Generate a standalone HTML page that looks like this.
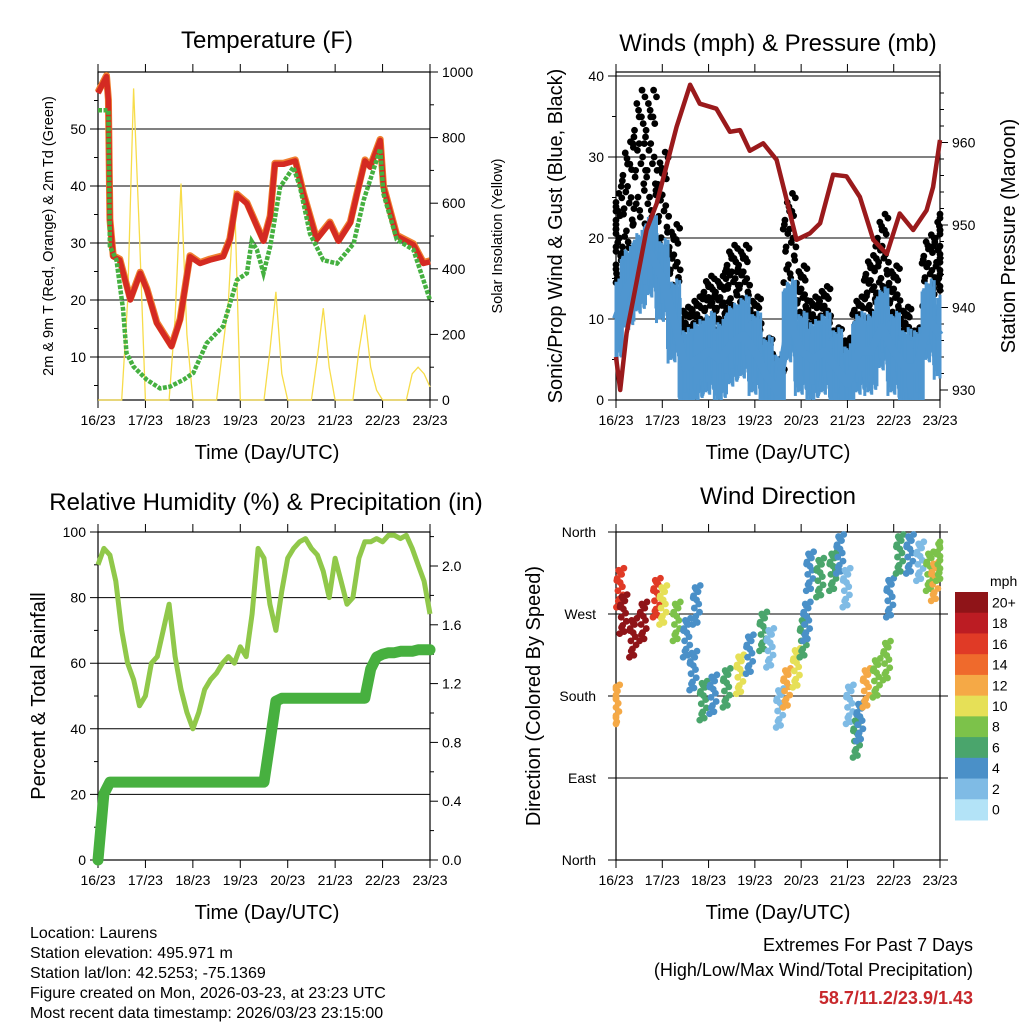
<!DOCTYPE html>
<html><head><meta charset="utf-8"><style>
html,body{margin:0;padding:0;background:#fff;}
svg{display:block;font-family:"Liberation Sans",sans-serif;}
</style></head><body>
<svg id="c" width="1024" height="1024" viewBox="0 0 1024 1024" xmlns="http://www.w3.org/2000/svg">
<g id="g"></g>
</svg>
<script>
// ---------- DATA ----------
const dayLabels = ["16/23","17/23","18/23","19/23","20/23","21/23","22/23","23/23"];
const tDays = [0,0.18,0.22,0.25,0.32,0.46,0.68,0.89,1.03,1.24,1.55,1.73,1.94,2.15,2.36,2.64,2.78,2.93,3.14,3.35,3.49,3.63,3.73,3.91,4.16,4.33,4.61,4.89,5.07,5.32,5.46,5.63,5.74,5.95,6.02,6.3,6.65,6.86,7];
const tVals = [56.3,59.2,55,34,27.6,27,20,24.7,21.8,15.9,11.8,16.5,27.6,26.4,27,27.6,30.6,38.4,36.9,32.9,30.3,34.6,43.8,43.8,44.4,38.6,30.6,33.5,30.3,33.5,38.6,44.4,43.3,48,39.8,31.2,29.7,26.4,26.7];
const tdDays = [0,0.22,0.25,0.39,0.53,0.6,0.75,1.03,1.31,1.52,1.8,2.01,2.29,2.64,2.93,3.14,3.24,3.35,3.49,3.63,3.84,4.12,4.26,4.47,4.75,5.04,5.39,5.6,5.95,6.02,6.3,6.65,7];
const tdVals = [53.3,53.3,29.4,27,18.3,10.7,8.3,6,4.5,4.8,6,7.2,12.4,15.4,23.5,24.7,30.3,28.8,24.7,29.4,39.8,43.3,39.8,31.6,27,26.4,29.9,37.5,46.5,38.6,30.6,28.8,20];
const solar = [0,0,0,0,0,300,950,500, 0,0,0,0,0,250,660,200, 0,0,0,0,0,150,300,640, 0,0,0,0,0,150,330,80, 0,0,0,0,0,130,280,100, 0,0,0,0,150,260,100,30, 0,0,0,0,0,80,100,80,40];
const sonic = [10,14,16,18,15,10,4,5,6,5,7,8,6,3,1,10,6,5,6,4,2,6,6,9,6,4,4,10,8];
const gust  = [20,25,30,30,24,17,9,10,12,12,15,15,10,6,4,20,13,10,11,7,6,10,14,18,13,9,7,16,18];
const pDays = [0,0.09,0.23,0.37,0.66,0.88,1.31,1.6,1.81,2.17,2.46,2.68,2.89,3.18,3.47,3.69,3.9,4.19,4.41,4.69,4.98,5.27,5.56,5.85,6.13,6.42,6.71,6.85,7.0];
const pVals = [934,930,936.9,940.9,949.4,952.6,961.9,967,964.7,964.1,961.3,961.5,959,959.9,957.9,953,948.2,949,950.2,956.1,955.9,953.4,948.2,946.5,951.4,949.4,951.8,954.6,960.3];
const rh = [90,95,93,85,70,60,55,47,50,60,62,70,78,62,52,45,40,45,52,55,57,60,62,60,65,62,75,95,92,78,70,82,92,95,97,98,95,93,88,80,92,85,78,80,92,97,97,98,97,99,99,98,99,95,90,85,75];
const precip = [0,0.45,0.53,0.53,0.53,0.53,0.53,0.53,0.53,0.53,0.53,0.53,0.53,0.53,0.53,0.53,0.53,0.53,0.53,0.53,0.53,0.53,0.53,0.53,0.53,0.53,0.53,0.53,0.53,0.8,1.08,1.1,1.1,1.1,1.1,1.1,1.1,1.1,1.1,1.1,1.1,1.1,1.1,1.1,1.1,1.1,1.3,1.38,1.4,1.41,1.41,1.42,1.42,1.42,1.43,1.43,1.43];
const dirDays = [0,0.09,0.16,0.37,0.59,0.88,1.02,1.31,1.53,1.67,1.74,1.89,2.1,2.39,2.68,2.89,3.18,3.33,3.54,3.69,3.9,4.05,4.12,4.19,4.41,4.69,4.84,4.98,5.05,5.2,5.27,5.41,5.63,5.85,5.92,6.13,6.35,6.57,6.78,6.89,7.0];
const dirDeg  = [172,300,271,245,263,289,281,263,245,209,281,176,183,190,205,227,252,234,168,190,212,245,263,318,311,318,337,300,172,135,153,190,201,220,289,337,337,329,318,307,329];
const dirSpd  = [12,16,20,20,20,16,10,8,4,4,4,6,4,6,10,4,6,2,2,12,10,6,4,4,6,6,4,2,2,6,4,12,8,8,4,6,4,2,8,12,8];
const spdLabels = ["20+","18","16","14","12","10","8","6","4","2","0"];
const spdColors = ["#8f1418","#bc1c23","#e03a26","#ef6a2c","#f5a946","#e6e057","#7cc24a","#4aa56c","#4a90c8","#7fbbe5","#b3e3f7"];
const dirLabels = ["North","East","South","West","North"];

// ---------- helpers ----------
const NS="http://www.w3.org/2000/svg";
const G=document.getElementById('g');
function mk(tag,at,parent){const e=document.createElementNS(NS,tag);for(const k in at)e.setAttribute(k,at[k]);(parent||G).appendChild(e);return e;}
function txt(s,x,y,size,anchor,extra,name){const e=mk('text',Object.assign({x:x,y:y,'font-size':size,'text-anchor':anchor||'middle',fill:'#000'},extra||{}));e.textContent=s;


return e;}
function pts(xs,ys){return xs.map((x,i)=>x.toFixed(1)+','+ys[i].toFixed(1)).join(' ');}

function frame(x0,y0,x1,y1,name,xLabY){
  const g=mk('g',{});
  
  
  mk('rect',{x:x0,y:y0,width:x1-x0,height:y1-y0,fill:'none',stroke:'#000','stroke-width':1.2},g);
  for(let d=0;d<=7;d++){const x=x0+d*(x1-x0)/7;
    mk('line',{x1:x,y1:y0,x2:x,y2:y0-8,stroke:'#000','stroke-width':1},g);
    mk('line',{x1:x,y1:y1,x2:x,y2:y1+8,stroke:'#000','stroke-width':1},g);
    txt(dayLabels[d],x,xLabY,14,'middle',{},'x-tick-label');
  }
  return g;
}
// fixed scatter spread patterns (styling only)
const PX=[-0.1,-0.08,-0.06,-0.04,-0.02,0,0.02,0.04,0.06,0.08,0.1,-0.09,-0.05,-0.01,0.03,0.07,-0.07,-0.03,0.01,0.05,0.09,-0.11,0.11,0];
const PY=[-0.5,0.2,-0.1,0.4,-0.3,0.1,-0.45,0.3,0,-0.2,0.45,0.15,-0.35,0.35,-0.05,0.25,-0.15,0.05,-0.4,0.5,-0.25,0.1,-0.1,0.3];

// ---------- Panel 1 ----------
(function(){
  const x0=98,x1=430,y0=72,y1=400;
  const xs=d=>x0+d*(x1-x0)/7, yT=v=>414-v*5.7, yS=v=>400-v*0.328;
  const g=frame(x0,y0,x1,y1,'temperature-panel',425);
  [10,20,30,40,50].forEach(v=>{mk('line',{x1:x0-8,y1:yT(v),x2:x1,y2:yT(v),stroke:'#000','stroke-width':1},g);txt(String(v),x0-12,yT(v)+5,14,'end',{},'y-tick-label');});
  for(let v=5;v<60;v+=10){mk('line',{x1:x0-4,y1:yT(v),x2:x0,y2:yT(v),stroke:'#000'},g);}
  [0,200,400,600,800,1000].forEach(v=>{mk('line',{x1:x1,y1:yS(v),x2:x1+8,y2:yS(v),stroke:'#000'},g);txt(String(v),x1+12,yS(v)+5,14,'start',{},'y2-tick-label');});
  for(let v=100;v<1000;v+=200)mk('line',{x1:x1,y1:yS(v),x2:x1+4,y2:yS(v),stroke:'#000'},g);
  const s=mk('polyline',{points:pts(solar.map((v,i)=>xs(i/8)),solar.map(yS)),fill:'none',stroke:'#f7dc4a','stroke-width':1.3},g);
  
  const o=mk('polyline',{points:pts(tDays.map(xs),tVals.map(v=>yT(v)-1)),fill:'none',stroke:'#f08030','stroke-width':7,'stroke-linejoin':'round'},g);
  
  const r=mk('polyline',{points:pts(tDays.map(xs),tVals.map(yT)),fill:'none',stroke:'#d42a22','stroke-width':5.5,'stroke-linejoin':'round'},g);
  
  const gd=mk('polyline',{points:pts(tdDays.map(xs),tdVals.map(yT)),fill:'none',stroke:'#45b040','stroke-width':4.5,'stroke-dasharray':'4,1.5'},g);
  
  txt('Temperature (F)',267,48,24,'middle',{},'temperature-title');
  txt('Time (Day/UTC)',267,459,20,'middle',{},'x-axis-title');
  txt('2m & 9m T (Red, Orange) & 2m Td (Green)',0,0,14.5,'middle',{transform:'translate(53,236) rotate(-90)'},'y-axis-title');
  txt('Solar Insolation (Yellow)',0,0,14.5,'middle',{transform:'translate(502,236) rotate(-90)'},'y2-axis-title');
})();

// ---------- Panel 2 ----------
(function(){
  const x0=616,x1=940,y0=72,y1=400;
  const xs=d=>x0+d*(x1-x0)/7, yW=v=>400-v*8.1, yP=v=>390-(v-930)*8.25;
  const g=frame(x0,y0,x1,y1,'winds-panel',425);
  mk('line',{x1:x0,y1:76,x2:x1,y2:76,stroke:'#000'},g);
  [0,10,20,30,40].forEach(v=>{mk('line',{x1:x0-8,y1:yW(v),x2:x1,y2:yW(v),stroke:'#000'},g);txt(String(v),x0-12,yW(v)+5,14,'end',{},'y-tick-label');});
  for(let v=5;v<40;v+=10)mk('line',{x1:x0-4,y1:yW(v),x2:x0,y2:yW(v),stroke:'#000'},g);
  [930,940,950,960].forEach(v=>{mk('line',{x1:x1,y1:yP(v),x2:x1+8,y2:yP(v),stroke:'#000'},g);txt(String(v),x1+12,yP(v)+5,14,'start',{},'y2-tick-label');});
  for(let v=932;v<968;v+=2)mk('line',{x1:x1,y1:yP(v),x2:x1+4,y2:yP(v),stroke:'#000'},g);
  gust.forEach((v,i)=>{PX.forEach((dx,j)=>{const d=Math.min(7,Math.max(0,i/4+dx*1.25));const val=Math.max(0.3,v*(1+PY[j]*0.55));
    const c=mk('circle',{cx:xs(d),cy:yW(val),r:3.4,fill:'#000'},g);
    });});
  sonic.forEach((v,i)=>{PX.forEach((dx,j)=>{const d=Math.min(7,Math.max(0,i/4+dx*1.25));const hi=v+3+PY[j]*4,lo=Math.max(0,v-4+PY[j]*3);
    const l=mk('line',{x1:xs(d),y1:yW(hi),x2:xs(d),y2:yW(lo),stroke:'#4f96d0','stroke-width':3},g);
    });});
  const sl=mk('polyline',{points:pts(sonic.map((v,i)=>xs(i/4)),sonic.map(yW)),fill:'none',stroke:'#4f96d0','stroke-width':8,'stroke-linejoin':'round'},g);
  
  const p=mk('polyline',{points:pts(pDays.map(xs),pVals.map(yP)),fill:'none',stroke:'#9a1a1c','stroke-width':4.5,'stroke-linejoin':'round'},g);
  
  txt('Winds (mph) & Pressure (mb)',778,51,24,'middle',{},'winds-title');
  txt('Time (Day/UTC)',778,459,20,'middle',{},'x-axis-title');
  txt('Sonic/Prop Wind & Gust (Blue, Black)',0,0,20,'middle',{transform:'translate(562,236) rotate(-90)'},'y-axis-title');
  txt('Station Pressure (Maroon)',0,0,20,'middle',{transform:'translate(1015,236) rotate(-90)'},'y2-axis-title');
})();

// ---------- Panel 3 ----------
(function(){
  const x0=98,x1=430,y0=532,y1=860;
  const xs=d=>x0+d*(x1-x0)/7, yR=v=>860-v*3.28, yQ=v=>860-v*147;
  const g=frame(x0,y0,x1,y1,'humidity-panel',885);
  [0,20,40,60,80,100].forEach(v=>{mk('line',{x1:x0-8,y1:yR(v),x2:x1,y2:yR(v),stroke:'#000'},g);txt(String(v),x0-12,yR(v)+5,14,'end',{},'y-tick-label');});
  for(let v=10;v<100;v+=20)mk('line',{x1:x0-4,y1:yR(v),x2:x0,y2:yR(v),stroke:'#000'},g);
  [0,0.4,0.8,1.2,1.6,2.0].forEach(v=>{mk('line',{x1:x1,y1:yQ(v),x2:x1+8,y2:yQ(v),stroke:'#000'},g);txt(v.toFixed(1),x1+12,yQ(v)+5,14,'start',{},'y2-tick-label');});
  for(let v=0.2;v<2.2;v+=0.4)mk('line',{x1:x1,y1:yQ(v),x2:x1+4,y2:yQ(v),stroke:'#000'},g);
  const q=mk('polyline',{points:pts(precip.map((v,i)=>xs(i/8)),precip.map(yQ)),fill:'none',stroke:'#47b03f','stroke-width':11,'stroke-linejoin':'round','stroke-linecap':'round'},g);
  
  const r=mk('polyline',{points:pts(rh.map((v,i)=>xs(i/8)),rh.map(yR)),fill:'none',stroke:'#90c84a','stroke-width':5,'stroke-linejoin':'round'},g);
  
  txt('Relative Humidity (%) & Precipitation (in)',266,510,24,'middle',{},'humidity-title');
  txt('Time (Day/UTC)',267,919,20,'middle',{},'x-axis-title');
  txt('Percent & Total Rainfall',0,0,20,'middle',{transform:'translate(45,696) rotate(-90)'},'y-axis-title');
})();

// ---------- Panel 4 ----------
(function(){
  const x0=616,x1=940,y0=532,y1=860;
  const xs=d=>x0+d*(x1-x0)/7, yD=v=>860-v*(328/360);
  const g=frame(x0,y0,x1,y1,'wind-direction-panel',885);
  dirLabels.forEach((s,i)=>{const y=yD(i*90);mk('line',{x1:x0-8,y1:y,x2:x1+8,y2:y,stroke:'#000'},g);txt(s,x0-20,y+5,14,'end',{},'y-tick-label');});
  dirDeg.forEach((v,i)=>{const bin=Math.min(10,Math.round(dirSpd[i]/2));const col=spdColors[10-bin];
    PX.slice(0,14).forEach((dx,j)=>{const d=Math.min(7,Math.max(0,dirDays[i]+dx*0.8));const dv=Math.min(360,Math.max(0,v+PY[j]*45));
      const c=mk('circle',{cx:xs(d),cy:yD(dv),r:3.4,fill:col},g);
      });});
  const cb=mk('g',{});
  
  const h=228/11;
  spdColors.forEach((c,i)=>{mk('rect',{x:955,y:592+i*h,width:33,height:h+0.5,fill:c},cb);txt(spdLabels[i],992,592+i*h+h/2+5,14,'start',{},'colorbar-label');});
  txt('mph',990,586,14,'start',{},'colorbar-unit');
  txt('Wind Direction',778,504,24,'middle',{},'wind-direction-title');
  txt('Time (Day/UTC)',778,919,20,'middle',{},'x-axis-title');
  txt('Direction (Colored By Speed)',0,0,20,'middle',{transform:'translate(540,696) rotate(-90)'},'y-axis-title');
})();

// ---------- Footer ----------
["Location: Laurens","Station elevation: 495.971 m","Station lat/lon: 42.5253; -75.1369","Figure created on Mon, 2026-03-23, at 23:23 UTC","Most recent data timestamp: 2026/03/23 23:15:00"].forEach((s,i)=>txt(s,30,938+i*20,16,'start',{},'station-info-line'));
txt('Extremes For Past 7 Days',973,951,18,'end',{},'extremes-title');
txt('(High/Low/Max Wind/Total Precipitation)',973,976,18,'end',{},'extremes-subtitle');
txt('58.7/11.2/23.9/1.43',973,1004,18,'end',{fill:'#c8282c','font-weight':'bold'},'extremes-values');
</script>
</body></html>
